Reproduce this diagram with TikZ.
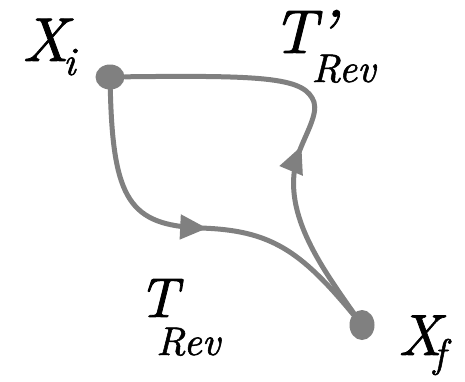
\documentclass[tikz,border=0pt]{standalone}
\usepackage{fontspec}
\newfontfamily\lblit{lmroman10-italic.otf}[FakeBold=1.3]
\usetikzlibrary{arrows.meta,decorations.markings,shapes.geometric}
\definecolor{pathgray}{HTML}{808080}
\newcommand\subsz{\fontsize{40}{40}\selectfont}
\begin{document}
\begin{tikzpicture}[x=1pt,y=-1pt,
  dot/.style={ellipse,fill=pathgray,inner sep=0pt},
  trajline/.style={draw=pathgray,line width=5pt,line cap=round},
  lbl/.style={inner sep=0pt,anchor=base west,font=\lblit},
  arrowmark/.style={postaction={decorate},decoration={markings,
      mark=at position #1 with {\arrow{Triangle[length=27pt,width=24pt]}}}}]
\useasboundingbox (0,0) rectangle (465,381);
\node[dot,minimum width=29pt,minimum height=25pt] (Xi) at (110,77) {};
\node[dot,minimum width=25pt,minimum height=30pt] (Xf) at (362,325) {};
% T_Rev path (Xi -> Xf)
\draw[trajline,arrowmark=0.53] (Xi) .. controls (113,200) and (130,225) .. (200,228)
   .. controls (270,230) and (300,250) .. (Xf);
% T'_Rev path (Xf -> Xi)
\draw[trajline,arrowmark=0.43] (Xf) .. controls (320,265) and (280,210) .. (298,155)
   .. controls (305,135) and (318,115) .. (314,102)
   .. controls (305,78) and (270,75) .. (Xi);
% labels
\node[lbl] (lxi) at (22,61) {\fontsize{62}{62}\selectfont X\kern-5pt\raisebox{-14pt}{\subsz i}};
\node[lbl] (ltp) at (272,53) {\fontsize{62}{62}\selectfont T’\kern-24pt\raisebox{-29pt}{\subsz Rev}};
\node[lbl] (lt) at (138,317) {\fontsize{56}{56}\selectfont T\kern-22pt\raisebox{-38pt}{\subsz Rev}};
\node[lbl] (lxf) at (398,355) {\fontsize{58}{58}\selectfont X\kern-8pt\raisebox{-12pt}{\subsz f}};
\end{tikzpicture}
\end{document}
